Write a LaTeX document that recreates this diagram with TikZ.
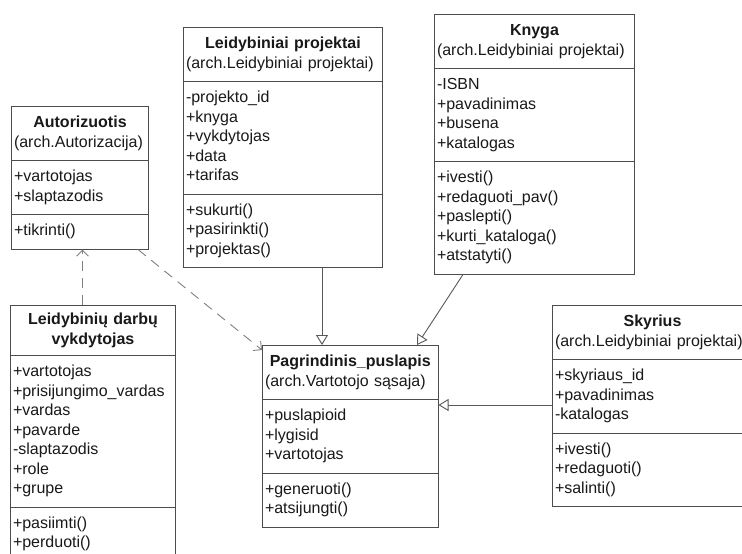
\documentclass[tikz,border=0pt]{standalone}
\usepackage{fontspec}
\setmainfont{Liberation Sans}
\setlength{\parindent}{0pt}
\usetikzlibrary{arrows.meta,shapes.multipart}
\newcommand{\ttl}[1]{\hfill#1\hfill\null}

\begin{document}
\begin{tikzpicture}[
  x=1pt, y=-1pt,
  font=\fontsize{16}{19.5}\selectfont,
  cls/.style={rectangle split, rectangle split parts=3, anchor=north west, draw=black!70, line width=1pt,
    fill=white, text=black!90, align=left, inner xsep=2.5pt, inner ysep=7pt},
  gen/.style={draw=black!65, line width=0.9pt, -{Triangle[open, length=10pt, width=12pt]}},
  dep/.style={draw=black!50, line width=0.9pt, dash pattern=on 10pt off 7pt, -{Straight Barb[length=6pt, width=12pt]}}
]
\useasboundingbox (0,0) rectangle (742,554);
\clip (0,0) rectangle (742,554);
\fill[white] (0,0) rectangle (742,554);

\node[cls, text width=132pt] (aut) at (11,106)
  {\strut\ttl{\textbf{Autorizuotis}}\\(arch.Autorizacija)\strut
   \nodepart{two}\strut+vartotojas\\+slaptazodis\strut
   \nodepart{three}\strut+tikrinti()\strut};
\node[cls, text width=194pt] (leid) at (183,27)
  {\strut\ttl{\textbf{Leidybiniai projektai}}\\(arch.Leidybiniai projektai)\strut
   \nodepart{two}\strut-projekto\_id\\+knyga\\+vykdytojas\\+data\\+tarifas\strut
   \nodepart{three}\strut+sukurti()\\+pasirinkti()\\+projektas()\strut};
\node[cls, text width=195pt] (knyga) at (434,14)
  {\strut\ttl{\textbf{Knyga}}\\(arch.Leidybiniai projektai)\strut
   \nodepart{two}\strut-ISBN\\+pavadinimas\\+busena\\+katalogas\strut
   \nodepart{three}\strut+ivesti()\\+redaguoti\_pav()\\+paslepti()\\+kurti\_kataloga()\\+atstatyti()\strut};
\node[cls, text width=160pt] (ldv) at (10,305)
  {\rule{0pt}{11pt}\ttl{\textbf{Leidybinių darbų}}\\\ttl{\textbf{vykdytojas}}\rule[-4pt]{0pt}{0pt}
   \nodepart{two}\strut+vartotojas\\+prisijungimo\_vardas\\+vardas\\+pavarde\\-slaptazodis\\+role\\+grupe\strut
   \nodepart{three}\strut+pasiimti()\\+perduoti()\strut};
\node[cls, text width=170.5pt] (pag) at (262,345)
  {\strut\ttl{\textbf{Pagrindinis\_puslapis}}\\(arch.Vartotojo sąsaja)\strut
   \nodepart{two}\strut+puslapioid\\+lygisid\\+vartotojas\strut
   \nodepart{three}\strut+generuoti()\\+atsijungti()\strut};
\node[cls, text width=195pt] (sky) at (552,305)
  {\strut\ttl{\textbf{Skyrius}}\\(arch.Leidybiniai projektai)\strut
   \nodepart{two}\strut+skyriaus\_id\\+pavadinimas\\-katalogas\strut
   \nodepart{three}\strut+ivesti()\\+redaguoti()\\+salinti()\strut};

% generalizations into the main page
\coordinate (lp) at ([xshift=139pt]leid.south west);
\draw[gen] (lp) -- (lp |- pag.north);
\draw[gen] ([xshift=29pt]knyga.south west) -- ([xshift=155pt]pag.north west);
\coordinate (pr) at ([yshift=-60pt]pag.north east);
\draw[gen] (sky.west |- pr) -- (pr);

% dependencies
\draw[dep] ([xshift=2.5pt]aut.south |- ldv.north) -- ([xshift=2.5pt]aut.south);
\draw[dep] ([xshift=127pt]aut.south west) -- ([yshift=-5pt]pag.north west);

\end{tikzpicture}
\end{document}
